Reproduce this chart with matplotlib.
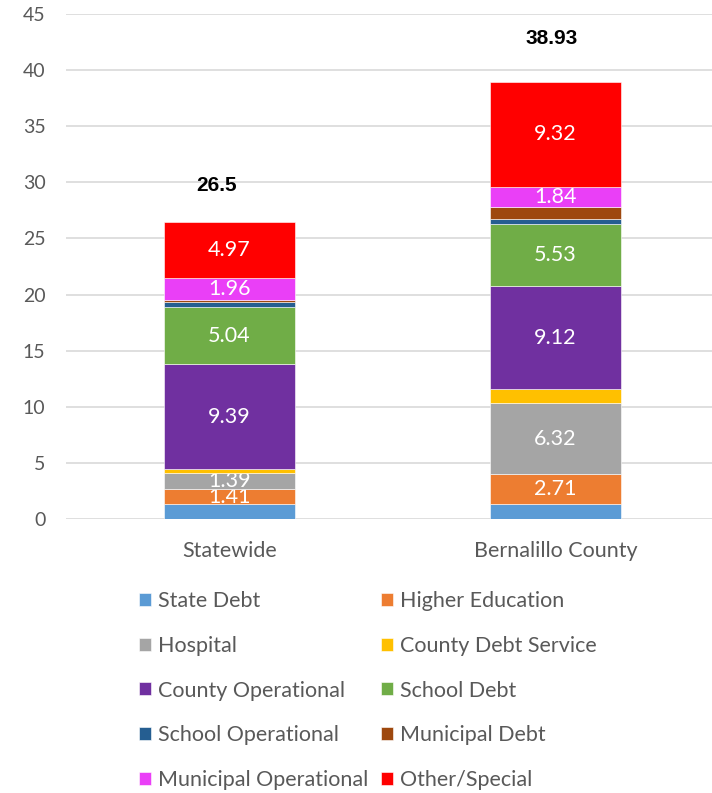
import numpy as np
import matplotlib.pyplot as plt

plt.rcParams['font.family'] = ['Lato', 'DejaVu Sans']

places = ["Statewide", "Bernalillo County"]
series = ["State Debt", "Higher Education", "Hospital", "County Debt Service",
          "County Operational", "School Debt", "School Operational",
          "Municipal Debt", "Municipal Operational", "Other/Special"]
state_debt = [1.30, 1.30]
higher_ed = [1.41, 2.71]
hospital = [1.39, 6.32]
county_debt = [0.33, 1.28]
county_op = [9.39, 9.12]
school_debt = [5.04, 5.53]
school_op = [0.45, 0.45]
muni_debt = [0.25, 1.07]
muni_op = [1.96, 1.84]
other = [4.97, 9.32]
totals = ["26.5", "38.93"]
# which series get a value label inside the bar
labelled = [False, True, True, False, True, True, False, False, True, True]

colors = ["#5B9BD5", "#ED7D31", "#A5A5A5", "#FFC000", "#7030A0",
          "#70AD47", "#255E91", "#9E480E", "#EA3FF7", "#FF0000"]

data = [state_debt, higher_ed, hospital, county_debt, county_op,
        school_debt, school_op, muni_debt, muni_op, other]

fig = plt.figure(figsize=(7.12, 7.93), dpi=100)
ax = fig.add_axes([0.093, 0.3455, 0.907, 0.6368])

x = np.arange(len(places))
bottom = np.zeros(len(places))
handles = []
for name, vals, c, lab in zip(series, data, colors, labelled):
    bars = ax.bar(x, vals, 0.40, bottom=bottom, color=c, label=name,
                  edgecolor="white", linewidth=0.4, zorder=3)
    if lab:
        ax.bar_label(bars, labels=["%.2f" % v for v in vals], label_type="center",
                     color="white", fontsize=15.5)
    handles.append(bars)
    bottom += np.array(vals)

# total labels sit a bit off-centre like the original
offs = [(-13, 36), (-4, 44)]
for xi, tot, t, o in zip(x, bottom, totals, offs):
    ax.annotate(t, (xi, tot), xytext=o, textcoords="offset pixels",
                ha="center", va="center", fontsize=15, fontweight="bold",
                family="Liberation Sans", color="black")

ax.set_ylim(0, 45)
ax.set_xlim(-0.5, 1.48)
ax.set_yticks(range(0, 46, 5))
ax.set_xticks(x)
ax.set_xticklabels(places, fontsize=15.5)
ax.yaxis.grid(True, color="#D9D9D9", linewidth=1.2, zorder=0)
for s in ax.spines.values():
    s.set_visible(False)
ax.tick_params(axis="both", length=0, colors="#595959")
ax.tick_params(axis="y", pad=15, labelsize=14)
ax.tick_params(axis="x", pad=16)

# legend filled row by row
order = [0, 2, 4, 6, 8, 1, 3, 5, 7, 9]
fig.legend([handles[i] for i in order], [series[i] for i in order],
           loc="upper left", bbox_to_anchor=(139 / 712, 1 - 591 / 793),
           ncol=2, frameon=False, fontsize=15.5, labelcolor="#595959",
           handlelength=0.56, handleheight=0.56, handletextpad=0.33,
           columnspacing=0.6, labelspacing=1.15, borderpad=0, borderaxespad=0)

plt.savefig("out.png", dpi=100)
